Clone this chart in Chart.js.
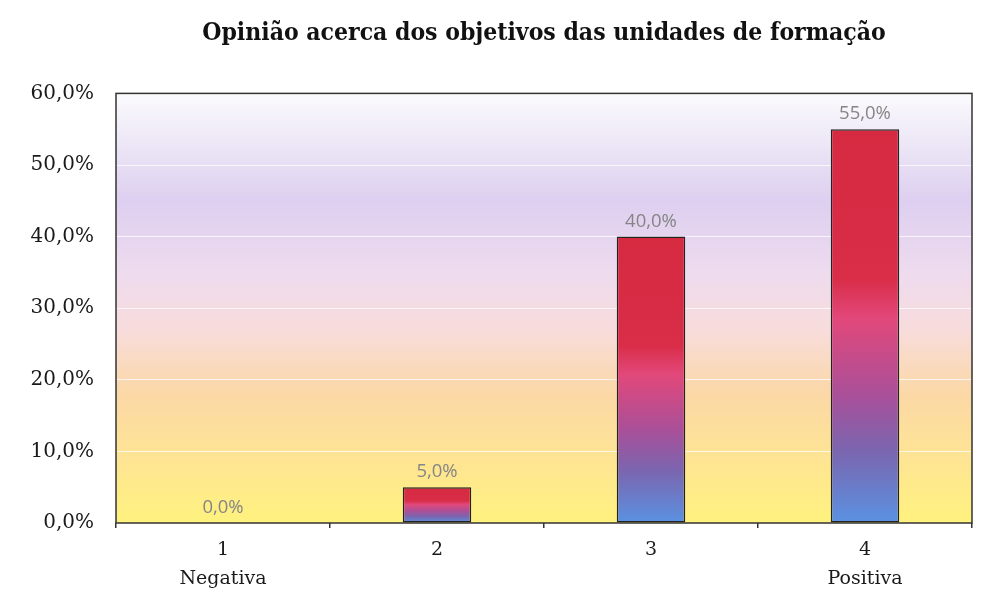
<!DOCTYPE html>
<html>
<head>
<meta charset="utf-8">
<script src="https://cdn.jsdelivr.net/npm/chart.js@4"></script>
<style>
  html, body { margin: 0; padding: 0; background: #fff; }
  #wrap { width: 991px; height: 599px; }
</style>
</head>
<body>
<div id="wrap"><canvas id="grafico" width="991" height="599"></canvas></div>
<script>
// Dados do gráfico
const categorias = [['1', 'Negativa'], '2', '3', ['4', 'Positiva']];
const percentagens = [0.0, 5.0, 40.0, 55.0];
const titulo = 'Opinião acerca dos objetivos das unidades de formação';

const fmt = v => v.toFixed(1).replace('.', ',') + '%';

// Fundo em degradê da área do gráfico
const fundoPlugin = {
    id: 'fundo',
    beforeDraw(chart) {
        const { ctx, chartArea: a } = chart;
        const g = ctx.createLinearGradient(0, a.bottom, 0, a.top);
        g.addColorStop(0.00, '#fff27e');
        g.addColorStop(0.14, '#fee592');
        g.addColorStop(0.30, '#fbd8a6');
        g.addColorStop(0.45, '#f8dcdc');
        g.addColorStop(0.58, '#eedbee');
        g.addColorStop(0.75, '#ddcff0');
        g.addColorStop(0.88, '#ece6f6');
        g.addColorStop(1.00, '#fbfbfd');
        ctx.save();
        ctx.fillStyle = g;
        ctx.fillRect(a.left, a.top, a.right - a.left, a.bottom - a.top);
        ctx.restore();
    },
    afterDraw(chart) {
        const { ctx, chartArea: a } = chart;
        ctx.save();
        ctx.strokeStyle = '#333';
        ctx.lineWidth = 1.5;
        ctx.strokeRect(a.left, a.top, a.right - a.left, a.bottom - a.top);
        ctx.restore();
    }
};

// Rótulos de valor acima das barras
const rotulosPlugin = {
    id: 'rotulos',
    afterDatasetsDraw(chart) {
        const { ctx } = chart;
        const meta = chart.getDatasetMeta(0);
        ctx.save();
        ctx.fillStyle = '#858585';
        ctx.font = '18.5px "Open Sans"';
        ctx.textAlign = 'center';
        ctx.textBaseline = 'bottom';
        meta.data.forEach((bar, i) => {
            ctx.fillText(fmt(percentagens[i]), bar.x, bar.y - 6);
        });
        ctx.restore();
    }
};

// Degradê de cada barra (vermelho no topo, azul na base)
function corBarra(context) {
    const chart = context.chart;
    if (!chart.chartArea) return '#d62a40';
    const y = chart.scales.y;
    const v = percentagens[context.dataIndex] || 0;
    const topo = y.getPixelForValue(v);
    const base = y.getPixelForValue(0);
    if (base - topo < 1) return '#d62a40';
    const g = chart.ctx.createLinearGradient(0, topo, 0, base);
    g.addColorStop(0.00, '#d52a40');
    g.addColorStop(0.38, '#d92d48');
    g.addColorStop(0.48, '#e2487a');
    g.addColorStop(0.68, '#a8509a');
    g.addColorStop(0.82, '#7a66b0');
    g.addColorStop(1.00, '#5a92e2');
    return g;
}

new Chart(document.getElementById('grafico'), {
    type: 'bar',
    data: {
        labels: categorias,
        datasets: [{
            data: percentagens,
            backgroundColor: corBarra,
            borderColor: '#222',
            borderWidth: 1.5,
            borderSkipped: false,
            categoryPercentage: 1,
            barPercentage: 0.32
        }]
    },
    options: {
        responsive: false,
        animation: false,
        layout: { padding: { left: 0, right: 19, top: 0, bottom: 0 } },
        plugins: {
            legend: { display: false },
            tooltip: { enabled: false },
            title: {
                display: true,
                text: titulo,
                fullSize: false,
                color: '#111',
                font: { family: '"DejaVu Serif Condensed", "DejaVu Serif"', size: 24.5, weight: 'bold' },
                padding: { top: 19, bottom: 45 }
            }
        },
        scales: {
            y: {
                min: 0,
                max: 60,
                ticks: {
                    stepSize: 10,
                    callback: v => fmt(v),
                    color: '#1a1a1a',
                    padding: 22,
                    font: { family: '"DejaVu Serif"', size: 20, weight: '500' }
                },
                grid: { color: 'rgba(255,255,255,0.75)', drawTicks: false, lineWidth: 1 },
                border: { display: false },
                afterFit: s => { s.width = 116; }
            },
            x: {
                ticks: {
                    color: '#1a1a1a',
                    padding: 8,
                    font: { family: '"DejaVu Serif"', size: 19, weight: '500', lineHeight: 1.5 }
                },
                grid: { drawOnChartArea: false, tickLength: 5, color: '#333', lineWidth: 1.5 },
                border: { display: false },
                afterFit: s => { s.height = 76; }
            }
        }
    },
    plugins: [fundoPlugin, rotulosPlugin]
});
</script>
</body>
</html>
